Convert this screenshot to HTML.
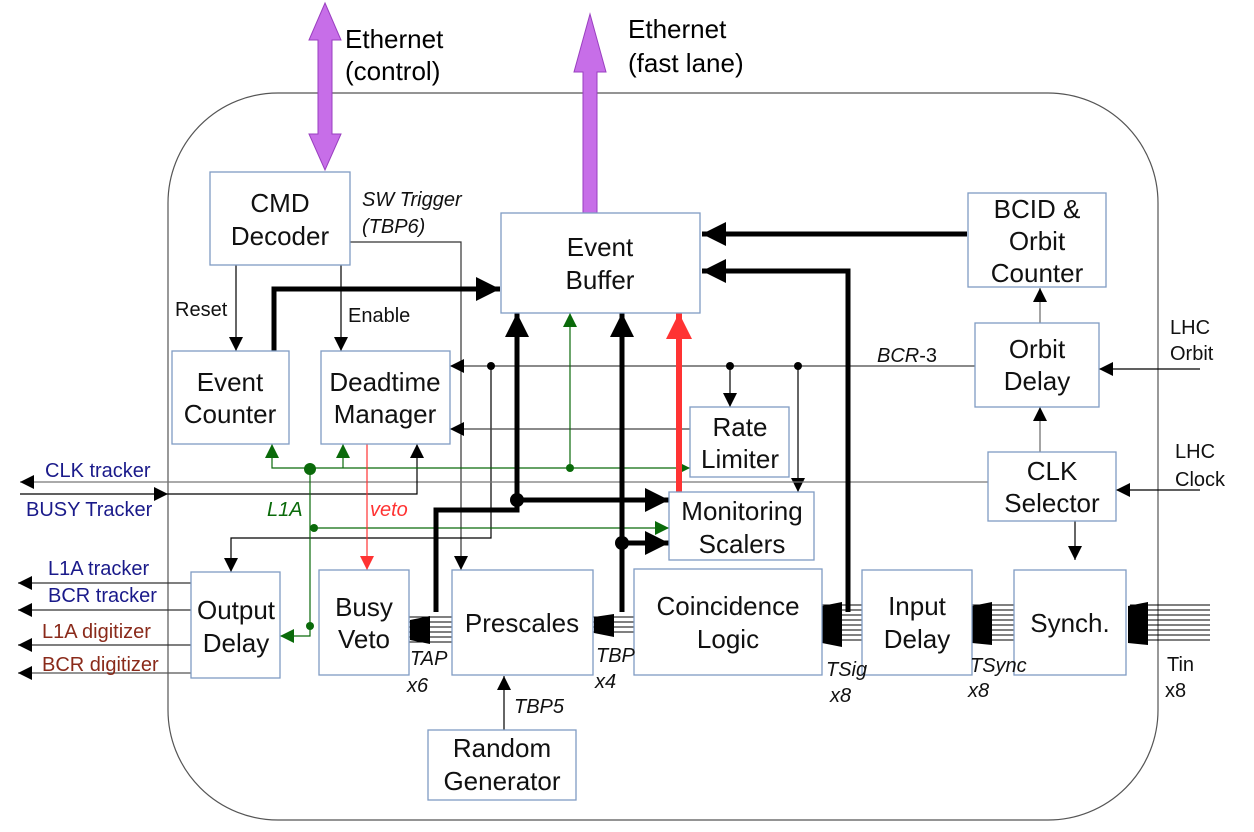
<!DOCTYPE html>
<html><head><meta charset="utf-8"><style>
html,body{margin:0;padding:0;background:#fff}
svg{display:block}
text{font-family:"Liberation Sans",sans-serif}
.b{fill:#fff;stroke:#7f9cc4;stroke-width:1.3}
.t{font-size:26px;fill:#111;text-anchor:middle}
.s{font-size:20px}
</style></head><body>
<svg width="1254" height="832" viewBox="0 0 1254 832" xmlns="http://www.w3.org/2000/svg">
<defs>
<marker id="a" viewBox="0 0 10 10" refX="10" refY="5" markerWidth="14" markerHeight="14" markerUnits="userSpaceOnUse" orient="auto"><path d="M0,0L10,5L0,10z" fill="#000"/></marker>
<marker id="ab" viewBox="0 0 10 10" refX="10" refY="5" markerWidth="24" markerHeight="24" markerUnits="userSpaceOnUse" orient="auto"><path d="M0,0L10,5L0,10z" fill="#000"/></marker>
<marker id="ag" viewBox="0 0 10 10" refX="10" refY="5" markerWidth="14" markerHeight="14" markerUnits="userSpaceOnUse" orient="auto"><path d="M0,0L10,5L0,10z" fill="#0a6a0a"/></marker>
<marker id="ar" viewBox="0 0 10 10" refX="10" refY="5" markerWidth="14" markerHeight="14" markerUnits="userSpaceOnUse" orient="auto"><path d="M0,0L10,5L0,10z" fill="#f33"/></marker>
<marker id="arb" viewBox="0 0 10 10" refX="10" refY="5" markerWidth="26" markerHeight="26" markerUnits="userSpaceOnUse" orient="auto"><path d="M0,0L10,5L0,10z" fill="#f33"/></marker>
</defs>
<rect x="168" y="93" width="990" height="727" rx="110" fill="none" stroke="#555" stroke-width="1.2"/>

<!-- purple arrows -->
<path d="M325,3 L341,40 L332,40 L332,134 L341,134 L325,170 L309,134 L318,134 L318,40 L309,40Z" fill="#c76ee8" stroke="#9a3fc0"/>
<path d="M590,14 L606,72 L597,72 L597,213 L583,213 L583,72 L574,72Z" fill="#c76ee8" stroke="#9a3fc0"/>
<text x="345" y="48" style="font-size:26px">Ethernet</text>
<text x="345" y="80" style="font-size:26px">(control)</text>
<text x="628" y="38" style="font-size:26px">Ethernet</text>
<text x="628" y="72" style="font-size:26px">(fast lane)</text>

<g fill="none" stroke-width="1.2">
<path d="M236,265V351" stroke="#000" marker-end="url(#a)"/>
<path d="M341,265V351" stroke="#000" marker-end="url(#a)"/>
<path d="M350,242H461V570" stroke="#333" marker-end="url(#a)"/>
<path d="M975,366H450" stroke="#444" marker-end="url(#a)"/>
<path d="M491,366V538H231V572" stroke="#000" marker-end="url(#a)"/>
<path d="M730,366V407" stroke="#000" marker-end="url(#a)"/>
<path d="M798,366V492" stroke="#000" marker-end="url(#a)"/>
<path d="M690,429H450" stroke="#444" marker-end="url(#a)"/>
<path d="M988,482H20" stroke="#777" marker-end="url(#a)"/>
<path d="M20,494H168" stroke="#000" marker-end="url(#a)"/>
<path d="M168,494H417V444" stroke="#000" marker-end="url(#a)"/>
<path d="M191,583H18" stroke="#333" marker-end="url(#a)"/>
<path d="M191,610H18" stroke="#333" marker-end="url(#a)"/>
<path d="M191,645H18" stroke="#333" marker-end="url(#a)"/>
<path d="M191,673H18" stroke="#555" marker-end="url(#a)"/>
<path d="M1040,323V288" stroke="#666" marker-end="url(#a)"/>
<path d="M1040,452V407" stroke="#666" marker-end="url(#a)"/>
<path d="M1075,521V560" stroke="#000" marker-end="url(#a)"/>
<path d="M1200,369H1099" stroke="#000" marker-end="url(#a)"/>
<path d="M1200,490H1116" stroke="#000" marker-end="url(#a)"/>
<path d="M504,730V676" stroke="#000" marker-end="url(#a)"/>
<path d="M310,468H690" stroke="#0a6a0a" marker-end="url(#ag)"/>
<path d="M310,468H272V444" stroke="#0a6a0a" marker-end="url(#ag)"/>
<path d="M343,468V444" stroke="#0a6a0a" marker-end="url(#ag)"/>
<path d="M570,468V313" stroke="#0a6a0a" marker-end="url(#ag)"/>
<path d="M310,468V636H280" stroke="#0a6a0a" marker-end="url(#ag)"/>
<path d="M314,528H669" stroke="#0a6a0a" marker-end="url(#ag)"/>
<path d="M367,444V570" stroke="#f33" marker-end="url(#ar)"/>
</g>
<g fill="none" stroke="#000" stroke-width="5">
<path d="M274,351V289H500" marker-end="url(#ab)"/>
<path d="M967,234H702" marker-end="url(#ab)"/>
<path d="M848,612V271H702" marker-end="url(#ab)"/>
<path d="M436,612V510H517V313" marker-end="url(#ab)"/>
<path d="M517,500H669" marker-end="url(#ab)"/>
<path d="M622,612V313" marker-end="url(#ab)"/>
<path d="M622,543H669" marker-end="url(#ab)"/>
</g>
<path d="M679,492V313" stroke="#f33" stroke-width="6" fill="none" marker-end="url(#arb)"/>
<g fill="#000"><circle cx="517" cy="500" r="7"/><circle cx="622" cy="543" r="7"/>
<circle cx="491" cy="366" r="4"/><circle cx="730" cy="366" r="4"/><circle cx="798" cy="366" r="4"/></g>
<g fill="#0a6a0a"><circle cx="310" cy="469" r="6"/><circle cx="570" cy="468" r="4"/><circle cx="314" cy="528" r="4"/><circle cx="310" cy="626" r="4"/></g>

<g stroke="#000" stroke-width="1">
<path d="M1130,605H1210M1130,610H1210M1130,615H1210M1130,620H1210M1130,625H1210M1130,630H1210M1130,635H1210M1130,640H1210"/>
<path d="M972,605H1014M972,610H1014M972,615H1014M972,620H1014M972,625H1014M972,630H1014M972,635H1014M972,640H1014"/>
<path d="M822,605H862M822,610H862M822,615H862M822,620H862M822,625H862M822,630H862M822,635H862M822,640H862"/>
<path d="M593,617H634M593,622H634M593,627H634M593,632H634"/>
<path d="M409,617H452M409,622H452M409,627H452M409,632H452M409,637H452M409,642H452"/>
</g>
<g fill="#000">
<path d="M1128,606L1148,602V645L1128,643Z"/>
<path d="M972,606L992,602V645L972,643Z"/>
<path d="M822,606L842,602V647L822,643Z"/>
<path d="M594,617L614,614V637L594,633Z"/>
<path d="M410,620L430,616V644L410,640Z"/>
</g>

<rect class="b" x="210" y="172" width="140" height="93"/>
<rect class="b" x="501" y="213" width="199" height="100"/>
<rect class="b" x="968" y="193" width="138" height="94"/>
<rect class="b" x="172" y="351" width="117" height="93"/>
<rect class="b" x="321" y="351" width="129" height="93"/>
<rect class="b" x="690" y="407" width="99" height="70"/>
<rect class="b" x="975" y="323" width="124" height="84"/>
<rect class="b" x="988" y="452" width="128" height="69"/>
<rect class="b" x="669" y="492" width="145" height="68"/>
<rect class="b" x="191" y="572" width="89" height="106"/>
<rect class="b" x="319" y="570" width="90" height="105"/>
<rect class="b" x="452" y="570" width="141" height="105"/>
<rect class="b" x="634" y="569" width="188" height="106"/>
<rect class="b" x="862" y="570" width="110" height="105"/>
<rect class="b" x="1014" y="570" width="112" height="105"/>
<rect class="b" x="428" y="730" width="148" height="70"/>

<g class="t">
<text x="280" y="212">CMD</text><text x="280" y="245">Decoder</text>
<text x="600" y="256">Event</text><text x="600" y="289">Buffer</text>
<text x="1037" y="218">BCID &amp;</text><text x="1037" y="250">Orbit</text><text x="1037" y="282">Counter</text>
<text x="230" y="391">Event</text><text x="230" y="423">Counter</text>
<text x="385" y="391">Deadtime</text><text x="385" y="423">Manager</text>
<text x="740" y="436">Rate</text><text x="740" y="468">Limiter</text>
<text x="1037" y="358">Orbit</text><text x="1037" y="390">Delay</text>
<text x="1052" y="480">CLK</text><text x="1052" y="512">Selector</text>
<text x="742" y="520">Monitoring</text><text x="742" y="553">Scalers</text>
<text x="236" y="619">Output</text><text x="236" y="652">Delay</text>
<text x="364" y="616">Busy</text><text x="364" y="648">Veto</text>
<text x="522" y="632">Prescales</text>
<text x="728" y="615">Coincidence</text><text x="728" y="648">Logic</text>
<text x="917" y="615">Input</text><text x="917" y="648">Delay</text>
<text x="1070" y="632">Synch.</text>
<text x="502" y="757">Random</text><text x="502" y="790">Generator</text>
</g>
<g class="s" fill="#111">
<text x="175" y="316">Reset</text>
<text x="348" y="322">Enable</text>
<text x="362" y="206" font-style="italic">SW Trigger</text>
<text x="362" y="233" font-style="italic">(TBP6)</text>
<text x="877" y="362"><tspan font-style="italic">BCR</tspan>-3</text>
<text x="1170" y="334">LHC</text><text x="1170" y="360">Orbit</text>
<text x="1175" y="458">LHC</text><text x="1175" y="486">Clock</text>
<text x="410" y="665" font-style="italic">TAP</text><text x="407" y="692" font-style="italic">x6</text>
<text x="596" y="662" font-style="italic">TBP</text><text x="595" y="688" font-style="italic">x4</text>
<text x="826" y="676" font-style="italic">TSig</text><text x="830" y="702" font-style="italic">x8</text>
<text x="970" y="672" font-style="italic">TSync</text><text x="968" y="697" font-style="italic">x8</text>
<text x="1167" y="671">Tin</text><text x="1165" y="697">x8</text>
<text x="514" y="713" font-style="italic">TBP5</text>
<text x="267" y="516" font-style="italic" fill="#0a6a0a">L1A</text>
<text x="370" y="516" font-style="italic" fill="#f33">veto</text>
<text x="45" y="477" fill="#1a1a8a">CLK tracker</text>
<text x="26" y="516" fill="#1a1a8a">BUSY Tracker</text>
<text x="48" y="575" fill="#1a1a8a">L1A tracker</text>
<text x="48" y="602" fill="#1a1a8a">BCR tracker</text>
<text x="42" y="638" fill="#8a2a1a">L1A digitizer</text>
<text x="42" y="671" fill="#8a2a1a">BCR digitizer</text>
</g>
</svg>
</body></html>
